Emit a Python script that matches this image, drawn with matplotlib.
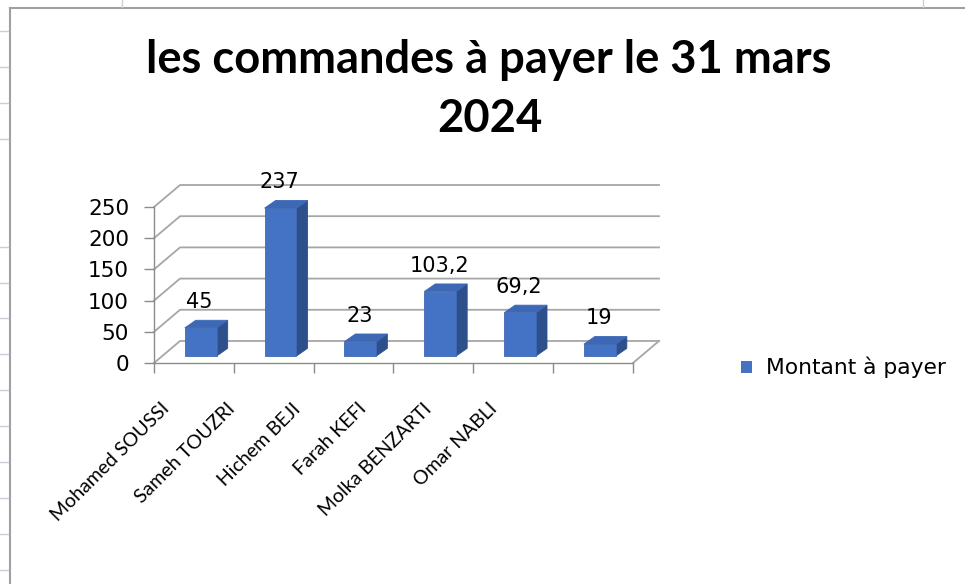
import matplotlib
matplotlib.use("Agg")
import matplotlib.pyplot as plt
from matplotlib.patches import Polygon
from matplotlib.lines import Line2D

# ---- data ----
categories = ["Mohamed SOUSSI", "Sameh TOUZRI", "Hichem BEJI",
              "Farah KEFI", "Molka BENZARTI", "Omar NABLI"]
montants = [45, 237, 23, 103.2, 69.2, 19]
y_ticks = [0, 50, 100, 150, 200, 250]
series_name = "Montant à payer"
title_line1 = "les commandes à payer le 31 mars"
title_line2 = "2024"

# ---- style ----
FRONT = "#4472C4"
SIDE = "#2D4F8C"
TOP = "#3D68B6"
GRID = "#A6A6A6"
AXIS = "#8C8C8C"
LABEL_FONT = "DejaVu Sans"

W_PX, H_PX = 965, 584
fig = plt.figure(figsize=(W_PX / 100, H_PX / 100), dpi=100)

# oblique projection depth (category units / value units)
DX = 0.326
DY = 35.3
n = len(categories)
ymax = y_ticks[-1]

# plot area: front plane left edge at x=-0.5, back wall reaches +DX / +DY
left_px, right_px, bottom_px, top_px = 154, 659, 363, 185
ax = fig.add_axes([left_px / W_PX, 1 - bottom_px / H_PX,
                   (right_px - left_px) / W_PX, (bottom_px - top_px) / H_PX])
ax.set_xlim(-0.5, n - 0.5 + DX)
ax.set_ylim(0, ymax + DY)
ax.patch.set_visible(False)

for s in ("top", "right"):
    ax.spines[s].set_visible(False)
ax.spines["left"].set_bounds(0, ymax)
ax.spines["bottom"].set_bounds(-0.5, n - 0.5)
for s in ("left", "bottom"):
    ax.spines[s].set_color(AXIS)
    ax.spines[s].set_linewidth(1.0)

ax.set_yticks(y_ticks)
ax.set_yticklabels([str(v) for v in y_ticks], fontsize=15.5,
                   family=LABEL_FONT)
ax.tick_params(axis="y", direction="out", length=7, width=1,
               color=AXIS, pad=11)
ax.set_xticks([i - 0.5 for i in range(n + 1)])
ax.set_xticklabels([])
ax.tick_params(axis="x", direction="out", length=7, width=1, color=AXIS)

# back wall gridlines running over the side wall
for v in y_ticks:
    ax.plot([-0.5, -0.5 + DX, n - 0.5 + DX], [v, v + DY, v + DY],
            color=GRID, lw=1.3, zorder=1, clip_on=False)
# right edge of the floor
ax.plot([n - 0.5, n - 0.5 + DX], [0, DY], color=GRID, lw=1.3,
        zorder=1, clip_on=False)

# 3D columns
bar_w = 0.40
fx, fy = 0.085, 11.2      # front face offset into depth
sx, sy = 0.138, 12.3      # column depth
for i, v in enumerate(montants):
    x0 = i - bar_w / 2 + fx
    x1 = i + bar_w / 2 + fx
    y0 = fy
    y1 = v + fy
    side = Polygon([(x1, y0), (x1 + sx, y0 + sy), (x1 + sx, y1 + sy), (x1, y1)],
                   closed=True, facecolor=SIDE, edgecolor=SIDE, lw=0.6,
                   zorder=3, clip_on=False)
    top = Polygon([(x0, y1), (x1, y1), (x1 + sx, y1 + sy), (x0 + sx, y1 + sy)],
                  closed=True, facecolor=TOP, edgecolor=TOP, lw=0.6,
                  zorder=3, clip_on=False)
    front = Polygon([(x0, y0), (x1, y0), (x1, y1), (x0, y1)],
                    closed=True, facecolor=FRONT, edgecolor="#3F69B3", lw=0.6,
                    zorder=4, clip_on=False)
    ax.add_patch(side)
    ax.add_patch(top)
    ax.add_patch(front)
    label = f"{v:g}".replace(".", ",")
    ax.annotate(label, xy=((x0 + x1) / 2, y1), xytext=(-1, 26),
                textcoords="offset pixels", ha="center", va="center",
                fontsize=15, family=LABEL_FONT, color="black", zorder=5)

# rotated category labels
for i, name in enumerate(categories):
    ax.annotate(name, xy=(-0.5, 0), xytext=(13 + 65.4 * i, -43),
                textcoords="offset pixels", rotation=45,
                rotation_mode="anchor", ha="right", va="center",
                fontsize=14, family="Lato", color="black",
                annotation_clip=False)

# title
fig.text(489 / W_PX, 1 - 73 / H_PX, title_line1, ha="center",
         va="baseline", fontsize=32.6, fontweight="bold", family="Lato")
fig.text(490 / W_PX, 1 - 132 / H_PX, title_line2, ha="center",
         va="baseline", fontsize=32.6, fontweight="bold", family="Lato")

# legend
fig.patches.append(plt.Rectangle((741 / W_PX, 1 - 373 / H_PX),
                                 11 / W_PX, 12 / H_PX, facecolor=FRONT,
                                 edgecolor="none", transform=fig.transFigure))
fig.text(766 / W_PX, 1 - 367 / H_PX, series_name, ha="left", va="center",
         fontsize=15.7, family=LABEL_FONT)

# chart frame and sheet gridline stubs
fig.add_artist(Line2D([10 / W_PX, 10 / W_PX], [0, 1 - 8 / H_PX],
                      transform=fig.transFigure, color="#A0A0A0", lw=1.5))
fig.add_artist(Line2D([10 / W_PX, 1], [1 - 8 / H_PX, 1 - 8 / H_PX],
                      transform=fig.transFigure, color="#A0A0A0", lw=1.5))
for yy in [31, 67, 103, 139, 247, 283, 318, 354, 390, 426, 462, 498, 534, 570]:
    fig.add_artist(Line2D([0, 8 / W_PX], [1 - yy / H_PX, 1 - yy / H_PX],
                          transform=fig.transFigure, color="#C8CEDA", lw=1))
for xx in [122, 923]:
    fig.add_artist(Line2D([xx / W_PX, xx / W_PX], [1, 1 - 7 / H_PX],
                          transform=fig.transFigure, color="#C8CEDA", lw=1))

fig.savefig("out.png", dpi=100, facecolor="white")
